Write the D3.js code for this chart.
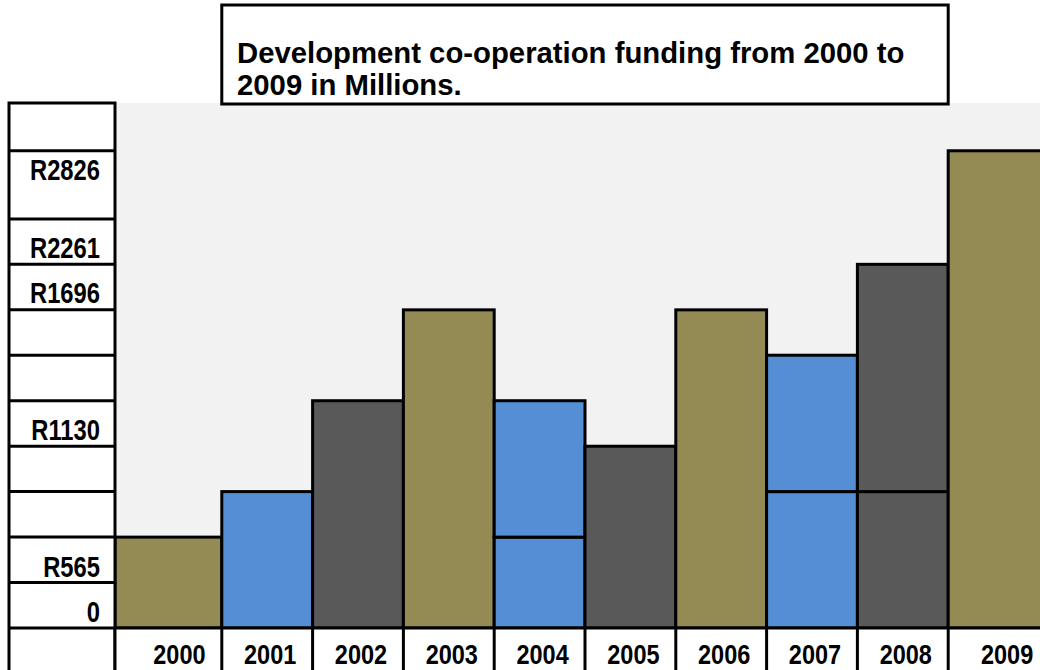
<!DOCTYPE html>
<html>
<head>
<meta charset="utf-8">
<script src="https://cdn.jsdelivr.net/npm/d3@7"></script>
<style>
  body { margin: 0; background: #fff; }
  text { font-weight: bold; fill: #000; }
</style>
</head>
<body>
<svg id="chart" width="1040" height="670"></svg>
<script>
// funding in R millions
const years = ["2000", "2001", "2002", "2003", "2004", "2005", "2006", "2007", "2008", "2009"];
const lowerPart = [565, 848, 1413, 1978, 565, 1130, 1978, 848, 848, 2967];
const upperPart = [0, 0, 0, 0, 848, 0, 0, 848, 1413, 0];
const barColors = ["#948A54", "#558ED5", "#595959", "#948A54", "#558ED5",
                   "#595959", "#948A54", "#558ED5", "#595959", "#948A54"];

// rows of the left-hand table
const rowLines = [0, 283, 565, 848, 1130, 1413, 1696, 1978, 2261, 2543, 2967];
const tickLabels = ["0", "R565", "R1130", "R1696", "R2261", "R2826"];
const tickAt = [37, 317, 1169, 2021, 2300, 2785];

const titleLines = ["Development co-operation funding from 2000 to", "2009 in Millions."];

const svg = d3.select("#chart");
const sans = "'Liberation Sans', Arial, sans-serif";

const plotLeft = 115, plotRight = 1060, plotTop = 103, baseY = 628;
const tableLeft = 9;

const y = d3.scaleLinear().domain([0, 3264]).range([baseY, plotTop]);
const x = d3.scaleBand().domain(years).range([131, 1039]).padding(0);

// plot background
svg.append("rect")
    .attr("x", plotLeft).attr("y", plotTop)
    .attr("width", plotRight - plotLeft).attr("height", baseY - plotTop)
    .attr("fill", "#F2F2F2");

// bars, stacked in two pieces where the picture shows a split
const bars = years.map((yr, i) => ({
    year: yr,
    x0: i === 0 ? plotLeft : x(yr),
    x1: i === years.length - 1 ? plotRight : x(yr) + x.bandwidth(),
    lo: lowerPart[i],
    hi: upperPart[i],
    color: barColors[i]
}));

const segs = [];
bars.forEach(b => {
    segs.push({ ...b, v0: 0, v1: b.lo });
    if (b.hi > 0) segs.push({ ...b, v0: b.lo, v1: b.lo + b.hi });
});

svg.append("g").selectAll("rect")
    .data(segs)
    .join("rect")
    .attr("x", d => d.x0)
    .attr("y", d => y(d.v1))
    .attr("width", d => d.x1 - d.x0)
    .attr("height", d => y(d.v0) - y(d.v1))
    .attr("fill", d => d.color)
    .attr("stroke", "#000")
    .attr("stroke-width", 3);

// left table
const table = svg.append("g");
table.append("rect")
    .attr("x", tableLeft).attr("y", plotTop)
    .attr("width", plotLeft - tableLeft).attr("height", 700 - plotTop)
    .attr("fill", "#fff")
    .attr("stroke", "#000").attr("stroke-width", 3);

table.selectAll("line")
    .data(rowLines.slice(1))
    .join("line")
    .attr("x1", tableLeft).attr("x2", plotLeft)
    .attr("y1", d => y(d)).attr("y2", d => y(d))
    .attr("stroke", "#000").attr("stroke-width", 3);

// squeezed Liberation Sans stands in for a narrow font
table.selectAll("text")
    .data(tickLabels)
    .join("text")
    .attr("transform", (d, i) => `translate(100,${y(tickAt[i])}) scale(0.82,1)`)
    .attr("text-anchor", "end")
    .attr("font-family", sans)
    .attr("font-size", 29)
    .text(d => d);

// bottom row with the years
const bottom = svg.append("g");
bottom.append("rect")
    .attr("x", plotLeft).attr("y", baseY)
    .attr("width", plotRight - plotLeft).attr("height", 80)
    .attr("fill", "#fff");
bottom.append("line")
    .attr("x1", tableLeft).attr("x2", plotRight)
    .attr("y1", baseY).attr("y2", baseY)
    .attr("stroke", "#000").attr("stroke-width", 3);
bottom.selectAll("line.div")
    .data(bars)
    .join("line")
    .attr("class", "div")
    .attr("x1", d => d.x0).attr("x2", d => d.x0)
    .attr("y1", baseY).attr("y2", 700)
    .attr("stroke", "#000").attr("stroke-width", 3);
bottom.selectAll("text")
    .data(bars)
    .join("text")
    .attr("transform", d => `translate(${(x(d.year) + d.x1) / 2 + 3},664) scale(0.84,1)`)
    .attr("text-anchor", "middle")
    .attr("font-family", sans)
    .attr("font-size", 28)
    .text(d => d.year);

// title box
const tx0 = x("2001"), tx1 = x("2009");
svg.append("rect")
    .attr("x", tx0).attr("y", 5)
    .attr("width", tx1 - tx0).attr("height", 99)
    .attr("fill", "#fff")
    .attr("stroke", "#000").attr("stroke-width", 3);
svg.append("g").selectAll("text")
    .data(titleLines)
    .join("text")
    .attr("x", 237)
    .attr("y", (d, i) => 63 + i * 32)
    .attr("font-family", sans)
    .attr("font-size", 29.3)
    .text(d => d);
</script>
</body>
</html>
